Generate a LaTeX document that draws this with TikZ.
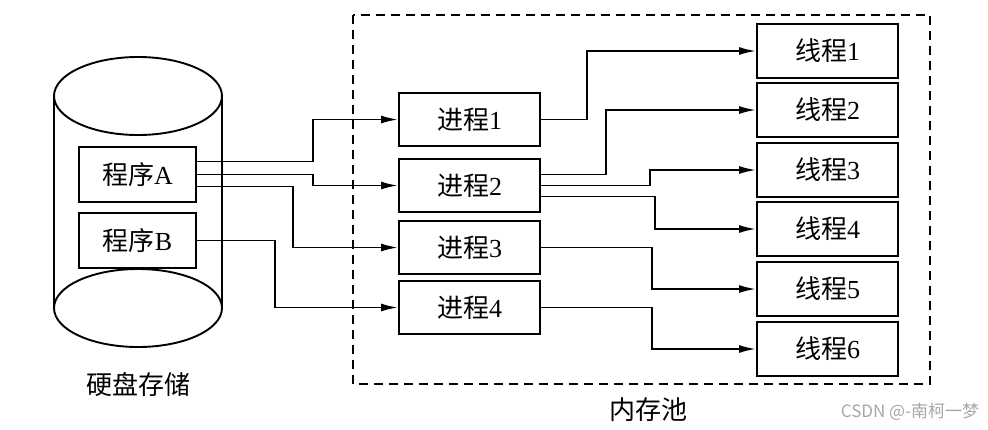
\documentclass[tikz,border=0pt]{standalone}
\usepackage{fontspec}
\setmainfont{Liberation Serif}
\newfontfamily\cjk{Noto Sans CJK SC}
\usetikzlibrary{arrows.meta,positioning}

\begin{document}
\begin{tikzpicture}[x=1pt,y=-1pt,line width=1.9pt,
    box/.style={draw,rectangle,inner sep=0pt,font=\fontsize{26}{30}\selectfont},
    prog/.style={box,minimum width=117pt,minimum height=55pt},
    proc/.style={box,minimum width=141pt,minimum height=53pt},
    thrd/.style={box,minimum width=141pt,minimum height=54pt},
    conn/.style={-{Latex[length=17pt,width=8pt]}},
    pool/.style={dash pattern=on 9pt off 6pt}]
        \useasboundingbox (0,0) rectangle (988,429);
        % disk cylinder
        \draw (54,96) -- (54,308);
        \draw (222,96) -- (222,308);
        \draw (138,96) ellipse [x radius=84pt,y radius=39pt];
        \draw (138,308) ellipse [x radius=84pt,y radius=39pt];
        \node[prog] (pa) at (137.5,174.5) {{\cjk 程序}A};
        \node[prog] (pb) at (137.5,240.5) {{\cjk 程序}B};
        \node[font=\cjk\fontsize{26}{30}\selectfont] (disk) at (138,385) {硬盘存储};
        % memory pool
        \draw[pool] (353,15) rectangle (930,384);
        \node[font=\cjk\fontsize{26}{30}\selectfont] (mem) at (648,410) {内存池};
        \node[proc] (p1) at (469.5,119.5) {{\cjk 进程}1};
        \node[proc] (p2) at (469.5,185.5) {{\cjk 进程}2};
        \node[proc] (p3) at (469.5,247.5) {{\cjk 进程}3};
        \node[proc] (p4) at (469.5,307.5) {{\cjk 进程}4};
        \node[thrd] (t1) at (827.5,51) {{\cjk 线程}1};
        \node[thrd] (t2) at (827.5,110) {{\cjk 线程}2};
        \node[thrd] (t3) at (827.5,170) {{\cjk 线程}3};
        \node[thrd] (t4) at (827.5,229) {{\cjk 线程}4};
        \node[thrd] (t5) at (827.5,289) {{\cjk 线程}5};
        \node[thrd] (t6) at (827.5,349) {{\cjk 线程}6};
        % programs to processes
        \draw[conn] ([yshift=13pt]pa.east) -| (313,0 |- p1.west) -- (p1.west);
        \draw[conn] (pa.east) -| (313,0 |- p2.west) -- (p2.west);
        \draw[conn] ([yshift=-12pt]pa.east) -| (293,0 |- p3.west) -- (p3.west);
        \draw[conn] (pb.east) -| (275,0 |- p4.west) -- (p4.west);
        % processes to threads
        \draw[conn] (p1.east) -| (587,0 |- t1.west) -- (t1.west);
        \draw[conn] ([yshift=11pt]p2.east) -| (606,0 |- t2.west) -- (t2.west);
        \draw[conn] (p2.east) -| (650,0 |- t3.west) -- (t3.west);
        \draw[conn] ([yshift=-11pt]p2.east) -| (655,0 |- t4.west) -- (t4.west);
        \draw[conn] (p3.east) -| (652,0 |- t5.west) -- (t5.west);
        \draw[conn] (p4.east) -| (652,0 |- t6.west) -- (t6.west);
        \node[font=\cjk\fontsize{17}{20}\selectfont,text=black!35] (mark) at (910,412) {CSDN @-南柯一梦};
      \end{tikzpicture}
\end{document}
